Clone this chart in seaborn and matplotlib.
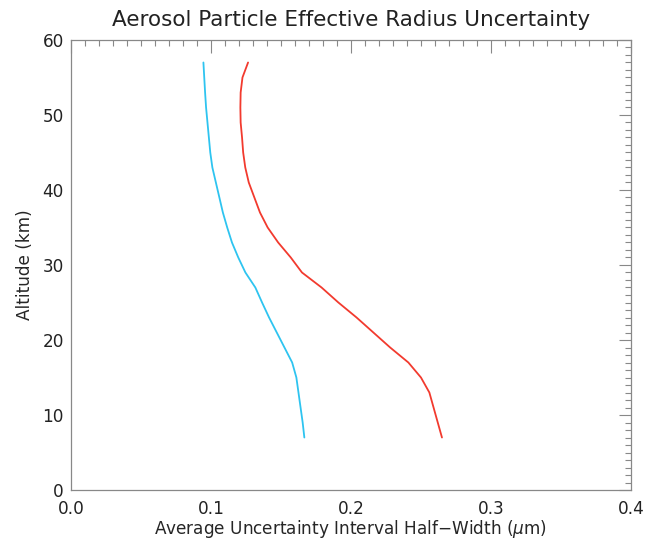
import numpy as np
import pandas as pd
import matplotlib
matplotlib.use('Agg')
import matplotlib.pyplot as plt
import seaborn as sns
from matplotlib.ticker import MultipleLocator

# altitude grid (km)
altitude = [7, 9, 11, 13, 15, 17, 19, 21, 23, 25, 27, 29, 31, 33, 35, 37, 39,
            41, 43, 45, 47, 49, 51, 53, 55, 57]
# average uncertainty interval half-width (um)
blue_width = [0.1667, 0.1655, 0.1640, 0.1625, 0.1610, 0.1580, 0.1525, 0.1470,
              0.1415, 0.1365, 0.1317, 0.1246, 0.1195, 0.1150, 0.1116, 0.1085,
              0.1060, 0.1035, 0.1010, 0.0995, 0.0985, 0.0975, 0.0965, 0.0958,
              0.0952, 0.0946]
red_width = [0.2650, 0.2620, 0.2590, 0.2560, 0.2500, 0.2410, 0.2280, 0.2160,
             0.2040, 0.1910, 0.1790, 0.1650, 0.1570, 0.1480, 0.1405, 0.1350,
             0.1310, 0.1270, 0.1245, 0.1230, 0.1222, 0.1212, 0.1210, 0.1212,
             0.1225, 0.1265]
xticks = [0, 0.1, 0.2, 0.3, 0.4]
xtick_labels = ['0.0', '0.1', '0.2', '0.3', '0.4']

df = pd.concat([
    pd.DataFrame({'alt': altitude, 'width': blue_width, 'series': 'blue'}),
    pd.DataFrame({'alt': altitude, 'width': red_width, 'series': 'red'}),
])

sns.set_style('white')
plt.rcParams['font.family'] = ['DejaVu Sans']
plt.rcParams['text.color'] = '#222222'

fig = plt.figure(figsize=(6.47, 5.39), dpi=100)
ax = fig.add_axes([0.1097, 0.0909, 0.8655, 0.8349])

sns.lineplot(data=df, x='width', y='alt', hue='series', sort=False,
             palette={'blue': '#2ec4f0', 'red': '#f23a2e'}, linewidth=1.3,
             legend=False, ax=ax, estimator=None)

ax.set_xlim(0, 0.4)
ax.set_ylim(0, 60)
ax.set_xticks(xticks)
ax.set_xticklabels(xtick_labels)
ax.xaxis.set_minor_locator(MultipleLocator(0.01))
ax.yaxis.set_major_locator(MultipleLocator(10))
ax.yaxis.set_minor_locator(MultipleLocator(1))

for s in ax.spines.values():
    s.set_color('#888888')
    s.set_linewidth(0.9)
ax.tick_params(which='both', direction='in', top=True, right=True,
               color='#888888', labelsize=12.2, labelcolor='#222222')
ax.tick_params(which='major', length=9, width=0.8)
ax.tick_params(which='minor', length=4.5, width=0.8)
ax.tick_params(axis='x', which='major', pad=7)
ax.tick_params(axis='y', which='major', pad=5)

ax.set_xlabel('Average Uncertainty Interval Half\u2212Width ($\\mu$m)', fontsize=12.2, labelpad=0)
ax.set_ylabel('Altitude (km)', fontsize=12.2, labelpad=6)
ax.set_title('Aerosol Particle Effective Radius Uncertainty', fontsize=15.5, pad=10)

fig.savefig('out.png', dpi=100)
